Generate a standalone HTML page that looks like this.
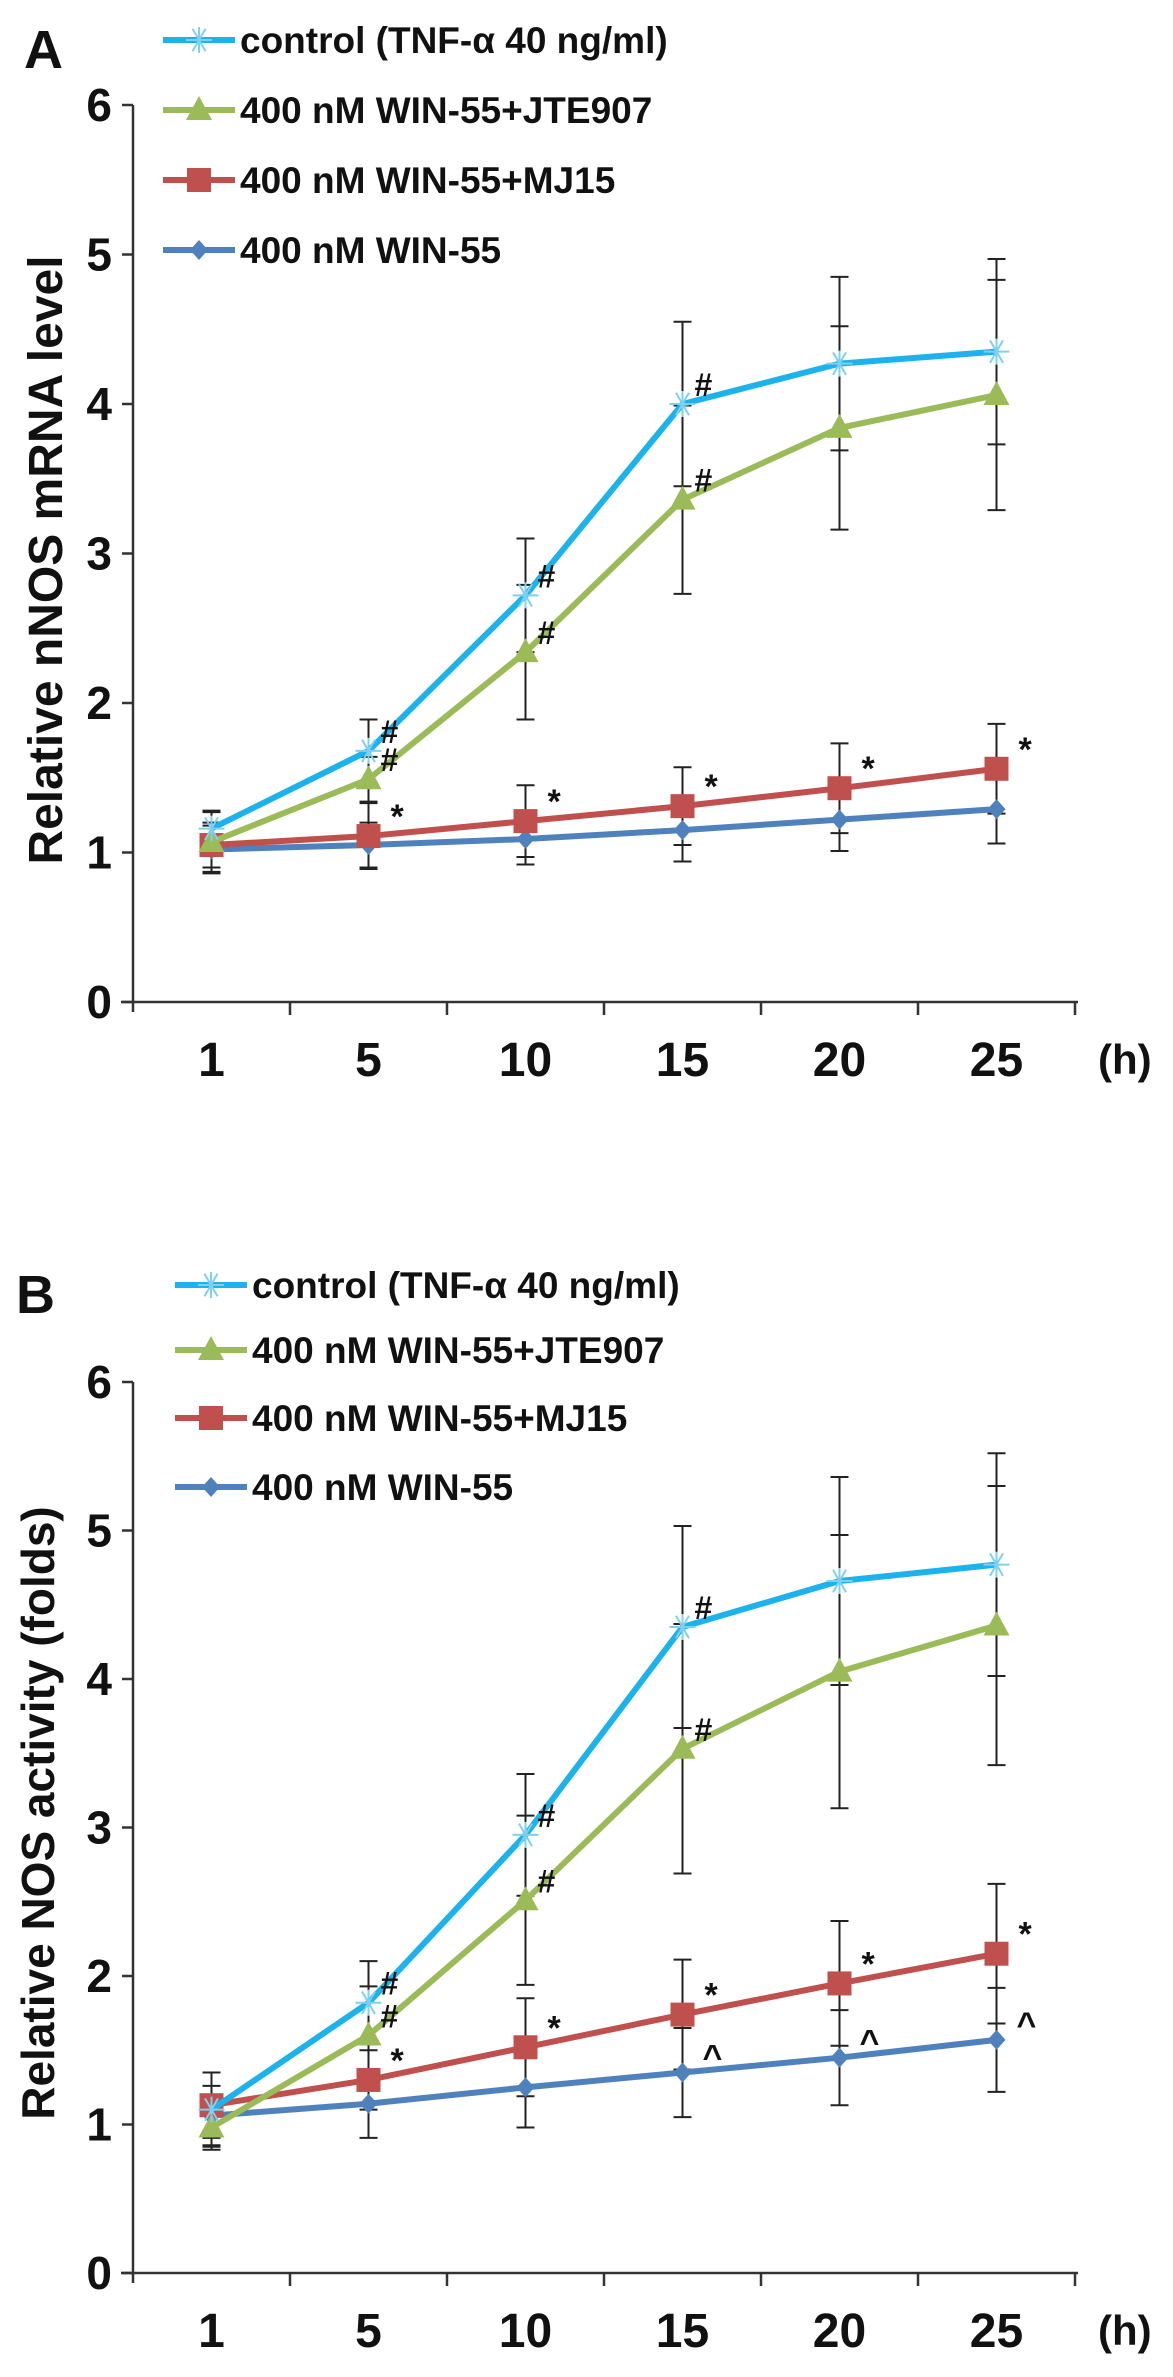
<!DOCTYPE html>
<html><head><meta charset="utf-8"><style>
html,body{margin:0;padding:0;background:#fff;}
svg{display:block;font-family:"Liberation Sans",Arial,sans-serif;font-weight:bold;}
</style></head><body>
<svg id="chart" width="1173" height="2377" viewBox="0 0 1173 2377"></svg>
<script>
const categories = ["1","5","10","15","20","25"];
const yTicks = [0,1,2,3,4,5,6];
const seriesNames = ["control (TNF-\u03b1 40 ng/ml)","400 nM WIN-55+JTE907","400 nM WIN-55+MJ15","400 nM WIN-55"];
// Panel A values
const aControl = [1.16,1.68,2.72,4.0,4.27,4.35];
const aJTE = [1.07,1.49,2.34,3.36,3.84,4.06];
const aMJ15 = [1.05,1.11,1.21,1.31,1.43,1.56];
const aWIN = [1.02,1.05,1.09,1.15,1.22,1.29];
const aControlErr = [0.12,0.21,0.38,0.55,0.58,0.62];
const aJTEErr = [0.2,0.15,0.45,0.63,0.68,0.77];
const aMJ15Err = [0.15,0.22,0.24,0.26,0.3,0.3];
const aWINErr = [0.16,0.15,0.17,0.21,0.21,0.23];
// Panel B values
const bControl = [1.1,1.82,2.95,4.35,4.66,4.77];
const bJTE = [0.98,1.6,2.51,3.53,4.05,4.36];
const bMJ15 = [1.13,1.3,1.52,1.74,1.95,2.15];
const bWIN = [1.06,1.14,1.25,1.35,1.45,1.57];
const bControlErr = [0.25,0.28,0.41,0.68,0.7,0.75];
const bJTEErr = [0.15,0.33,0.57,0.84,0.92,0.94];
const bMJ15Err = [0.22,0.2,0.33,0.37,0.42,0.47];
const bWINErr = [0.2,0.23,0.27,0.3,0.32,0.35];
// significance marks
const aControlMarks = ["","#","#","#","",""];
const aJTEMarks = ["","#","#","#","",""];
const aMJ15Marks = ["","*","*","*","*","*"];
const aWINMarks = ["","","","","",""];
const bControlMarks = ["","#","#","#","",""];
const bJTEMarks = ["","#","#","#","",""];
const bMJ15Marks = ["","*","*","*","*","*"];
const bWINMarks = ["","","","^","^","^"];

const NS="http://www.w3.org/2000/svg";
const svg=document.getElementById('chart');
const colors=["#1cb2ec","#9bbb59","#c0504d","#4f81bd"];
const markerTypes=["star","tri","sq","dia"];
function mk(tag,attrs,parent){const e=document.createElementNS(NS,tag);for(const k in attrs)e.setAttribute(k,attrs[k]);(parent||svg).appendChild(e);return e;}

function marker(g,type,x,y,c){
  let m;
  if(type==="star"){
    m=mk('g',{stroke:c,'stroke-width':2},g);
    for(const a of [0,60,120]){const r=a*Math.PI/180;mk('line',{x1:x-13*Math.cos(r),y1:y-13*Math.sin(r),x2:x+13*Math.cos(r),y2:y+13*Math.sin(r)},m);}
    mk('line',{x1:x,y1:y-13,x2:x,y2:y+13},m);
  } else if(type==="tri"){
    m=mk('polygon',{points:`${x},${y-14} ${x-13},${y+10} ${x+13},${y+10}`,fill:c},g);
  } else if(type==="sq"){
    m=mk('rect',{x:x-12,y:y-12,width:24,height:24,fill:c},g);
  } else {
    m=mk('polygon',{points:`${x},${y-10} ${x+9},${y} ${x},${y+10} ${x-9},${y}`,fill:c},g);
  }
  return m;
}

function panel(p){
  const X0=133, band=157, y0=p.y0, unit=p.unit;
  const xs=i=>X0+band*(i+0.5);
  const ys=v=>y0-v*unit;
  const g=mk('g',{});
  
  
  const lab=mk('text',{x:p.letterX,y:p.letterY,'font-size':54,fill:'#111'},g);
  lab.textContent=p.letter;
  
  
  const ax=mk('g',{stroke:'#333','stroke-width':2.5},g);
  
  
  mk('line',{x1:X0,y1:ys(6),x2:X0,y2:y0+10},ax);
  mk('line',{x1:X0-12,y1:y0,x2:X0+band*6+3,y2:y0},ax);
  yTicks.forEach(t=>{
    mk('line',{x1:X0-11,y1:ys(t),x2:X0,y2:ys(t)},ax);
    const tx=mk('text',{x:112,y:ys(t)+16,'text-anchor':'end','font-size':46,fill:'#111',stroke:'none'},g);
    tx.textContent=t;
    
    
  });
  for(let i=1;i<=6;i++){mk('line',{x1:X0+band*i,y1:y0,x2:X0+band*i,y2:y0+13},ax);}
  categories.forEach((c,i)=>{
    const tx=mk('text',{x:xs(i),y:y0+74,'text-anchor':'middle','font-size':48,fill:'#111'},g);
    tx.textContent=c;
    
    
  });
  const hu=mk('text',{x:1098,y:y0+72,'font-size':42,fill:'#111'},g);
  hu.textContent="(h)";
  
  
  const yt=mk('text',{x:0,y:0,'font-size':p.titleSize,fill:'#111','text-anchor':'middle',transform:`translate(${p.titleX},${p.titleY}) rotate(-90)`},g);
  yt.textContent=p.title;
  
  
  const eg=mk('g',{stroke:'#222','stroke-width':2},g);
  
  
  p.series.forEach((s,k)=>{
    s.forEach((v,i)=>{
      const x=xs(i),t=ys(v+p.errs[k][i]),b=ys(v-p.errs[k][i]);
      mk('line',{x1:x,y1:t,x2:x,y2:b},eg);
      mk('line',{x1:x-9,y1:t,x2:x+9,y2:t},eg);
      mk('line',{x1:x-9,y1:b,x2:x+9,y2:b},eg);
    });
  });
  [3,2,1,0].forEach(k=>{
    const s=p.series[k];
    const sg=mk('g',{},g);
    
    
    mk('polyline',{points:s.map((v,i)=>xs(i)+','+ys(v)).join(' '),fill:'none',stroke:colors[k],'stroke-width':6,'stroke-linejoin':'round'},sg);
    s.forEach((v,i)=>{
      const m=marker(sg,markerTypes[k],xs(i),ys(v),k===0?'#7fd0f0':colors[k]);
      
      
    });
  });
  p.series.forEach((s,k)=>{
    s.forEach((v,i)=>{
      const mark=p.marks[k][i]; if(!mark)return;
      let dx=22, dy=-8, fs=34;
      if(mark==="#"){dx=12;dy=-8;fs=32;}
      if(mark==="^"){dx=20;dy=-4;fs=34;}
      const t=mk('text',{x:xs(i)+dx,y:ys(v)+dy,'font-size':fs,fill:'#111'},g);
      t.textContent=mark;
      
      
    });
  });
  seriesNames.forEach((n,k)=>{
    const ly=p.legY[k];
    const lg=mk('g',{},g);
    
    
    mk('line',{x1:p.legX,y1:ly,x2:p.legX+72,y2:ly,stroke:colors[k],'stroke-width':6},lg);
    marker(lg,markerTypes[k],p.legX+36,ly,k===0?'#7fd0f0':colors[k]);
    const t=mk('text',{x:p.legX+77,y:ly+13,'font-size':37,fill:'#111'},lg);
    t.textContent=n;
  });
}

panel({name:'panel-a',letter:'A',letterX:24,letterY:68,y0:1002,unit:149.5,
  title:'Relative nNOS mRNA level',titleX:62,titleY:560,titleSize:48,
  series:[aControl,aJTE,aMJ15,aWIN],errs:[aControlErr,aJTEErr,aMJ15Err,aWINErr],
  marks:[aControlMarks,aJTEMarks,aMJ15Marks,aWINMarks],
  legX:163,legY:[40,110,180,250]});
panel({name:'panel-b',letter:'B',letterX:16,letterY:1313,y0:2273,unit:148.5,
  title:'Relative NOS activity (folds)',titleX:54,titleY:1813,titleSize:46,
  series:[bControl,bJTE,bMJ15,bWIN],errs:[bControlErr,bJTEErr,bMJ15Err,bWINErr],
  marks:[bControlMarks,bJTEMarks,bMJ15Marks,bWINMarks],
  legX:175,legY:[1285,1350,1418,1487]});
</script>
</body></html>
